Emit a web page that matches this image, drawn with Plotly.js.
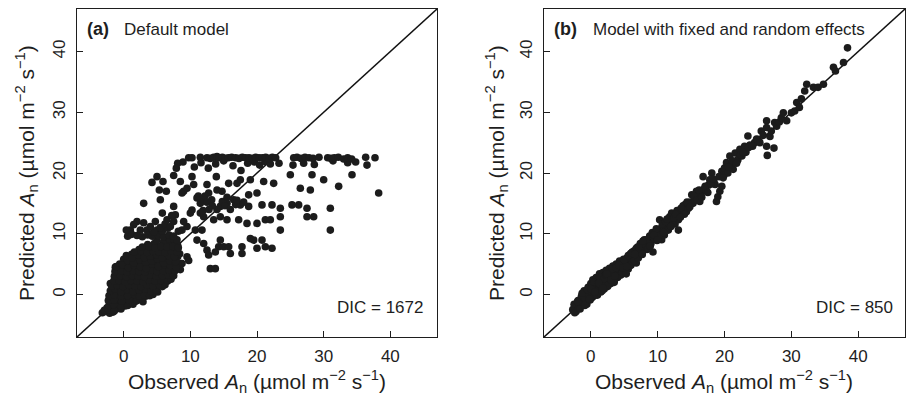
<!DOCTYPE html>
<html>
<head>
<meta charset="utf-8">
<script src="https://cdn.plot.ly/plotly-3.0.1.min.js"></script>
<style>html,body{margin:0;padding:0;background:#fff;}#chart{width:909px;height:397px;}</style>
</head>
<body>
<div id="chart"></div>
<script>
// ---------- Panel (a): Default model ----------
const bandAx = [9.75,10.25,11.5,12.5,13.0,13.5,14.0,14.3,14.8,15.2,15.7,16.2,16.8,17.3,17.8,18.3,18.8,19.3,19.8,20.3,20.8,21.3,21.8,22.3,22.8,25.5,26.0,26.6,27.2,27.8,28.4,29.3,30.6,31.1,31.6,32.2,33.0,33.6,34.2,36.3,37.7];
const bandAy = [22.5,22.5,22.6,22.5,22.4,22.6,22.7,22.5,22.6,22.4,22.5,22.6,22.5,22.4,22.6,22.5,22.5,22.4,22.6,22.5,22.5,22.6,22.4,22.6,22.5,22.5,22.6,22.4,22.6,22.5,22.4,22.6,22.5,22.4,22.5,22.6,22.3,22.5,22.3,22.6,22.5];
const band2Ax = [8.1,7.9,8.9,10.6,11.6,12.7,13.8,15.0,16.4,17.6,18.6,19.6,20.4,21.2,22.0,23.3,25.4,27.0,28.6,31.4,33.6,34.8,36.5];
const band2Ay = [21.6,20.8,21.8,21.0,21.7,20.8,21.5,22.0,21.2,20.4,21.6,21.8,21.3,21.9,21.5,21.6,21.3,21.6,21.4,22.0,21.7,21.8,21.3];
const midAx = [4.25,5.0,5.9,5.35,6.4,3.0,5.5,7.5,8.5,9.0,8.75,9.5,10.25,10.5,11.0,11.5,12.5,12.75,13.9,14.0,14.75,15.75,17.0,17.5,19.0,18.75,20.0,21.0,22.5,10.0,10.25,11.5,12.0,7.5,7.75,6.5,7.5,4.75,5.0,2.0,1.0,2.5,3.5,8.75,9.5,9.0,10.75,11.75,11.0,12.0,12.5,12.75,13.0,13.75,13.5,14.5,15.5,17.25,18.5,20.0,21.25,22.0,23.5,14.5,15.5,16.5,17.5,18.75,20.75,22.25,23.5,25.25,26.25,27.5,28.5,27.5,31.0,31.0,14.5,14.25,15.0,15.75,16.0,17.75,17.75,19.0,19.5,20.75,20.0,21.25,22.25,13.75,23.5,28.0,26.5,25.0,28.25,30.0,32.25,34.25,38.25,9.5,9.75,8.0];
const midAy = [18.45,19.4,18.6,17.2,17.0,15.0,15.6,19.6,18.6,17.0,16.7,17.5,19.4,18.1,15.9,15.0,18.1,16.7,19.4,17.2,17.0,18.3,18.3,18.9,18.9,16.4,16.7,18.6,18.3,13.4,13.9,13.4,12.8,14.5,13.1,12.3,12.0,12.0,10.6,12.0,10.6,10.6,10.6,10.6,11.2,12.0,10.6,10.6,8.95,8.4,7.3,6.5,4.25,4.25,12.3,12.8,12.3,12.3,11.7,11.7,12.3,12.3,12.8,14.5,15.0,15.6,14.75,14.5,14.75,14.75,14.2,14.75,14.75,14.2,12.8,12.8,14.2,10.6,8.95,7.85,7.85,7.85,6.75,7.85,6.75,9.2,8.95,8.95,7.6,7.85,7.6,7.0,10.6,17.2,17.5,19.7,19.7,18.9,17.8,19.7,16.7,6.2,5.6,9.0];
const extraAx = [14.8,15.2,16.0,16.8,17.0,18.0,15.5,14.0,13.2,12.0,12.2,11.2,12.5,13.3,11.9,12.8,0.6,1.2,2.0,2.8,3.6,4.3,5.2,6.0,6.8,7.5,4.5,5.8,6.6,0.4,1.5,3.0,4.0,5.5,6.2,7.0,8.2,5.8,7.2];
const extraAy = [15.3,14.6,14.0,14.8,15.5,15.2,16.0,14.0,15.6,15.5,16.2,16.2,15.2,14.6,13.8,14.0,9.6,9.9,9.7,9.5,9.8,9.6,9.7,9.5,9.8,9.6,10.3,10.4,10.9,10.6,11.5,11.8,11.2,11.0,11.6,11.2,10.4,13.4,13.0];
const blobAx = [-3.2,-2.7,-2.1,-1.6, -2.5,-1.8,-0.8,0.2, -2.0,-1.2,0.1,1.0,1.8, -1.8,-0.9,0.3,1.4,2.5,3.3, -1.9,-1.0,0.1,0.9,1.8,2.7,3.6,4.4,5.1, -1.6,-0.6,0.4,1.3,2.2,3.1,4.0,4.9,5.8, -1.3,-0.3,0.6,1.5,2.4,3.3,4.2,5.1,6.0,6.6, -1.1,-0.2,0.8,1.7,2.6,3.5,4.4,5.3,6.2,7.0, -0.9,0.0,0.9,1.8,2.7,3.6,4.5,5.4,6.3,7.2, -0.8,0.2,1.1,2.0,2.9,3.8,4.7,5.6,6.5,7.4,8.2, -0.6,0.3,1.2,2.1,3.0,3.9,4.8,5.7,6.6,7.5,8.6, 0.0,0.9,1.8,2.7,3.6,4.5,5.4,6.3,7.2,8.1, 1.2,2.2,3.1,4.0,4.9,5.8,6.7,7.6,8.4, 2.3,3.3,4.2,5.1,6.0,6.9,7.8, 3.6,4.6,5.5,6.4,7.3,8.1, 5.0,6.0,6.9,7.6, 2.5,8.75,-1.25,-2.0];
const blobAy = [-3.0,-2.8,-3.1,-2.9, -2.2,-2.0,-2.3,-1.9, -1.4,-1.2,-1.5,-1.3,-1.1, -0.6,-0.4,-0.7,-0.5,-0.8,-0.3, 0.2,0.4,0.0,0.3,0.1,0.4,0.2,0.0,0.4, 1.0,1.2,0.9,1.1,0.8,1.2,1.0,0.9,1.3, 1.8,1.9,1.7,2.0,1.6,1.9,1.8,2.1,1.7,2.2, 2.6,2.8,2.5,2.7,2.4,2.8,2.6,2.9,2.5,3.0, 3.4,3.6,3.3,3.5,3.2,3.6,3.4,3.7,3.3,3.8, 4.2,4.4,4.1,4.3,4.0,4.4,4.2,4.5,4.1,4.6,4.3, 5.0,5.2,4.9,5.1,4.8,5.2,5.0,5.3,4.9,5.4,5.1, 5.8,5.9,5.7,6.0,5.6,5.9,5.8,6.1,5.7,6.2, 6.6,6.8,6.5,6.7,6.4,6.8,6.6,6.9,6.7, 7.4,7.6,7.3,7.8,7.5,7.7,7.9, 8.2,8.4,8.0,8.3,8.5,8.1, 9.0,8.7,9.1,8.9, -0.7,5.1,4.5,1.8];
const blobA2x = [-2.9,-2.3,-1.4,-0.4, -2.2,-1.5,-0.4,0.6,1.4, -2.3,-1.4,-0.3,0.8,2.0,2.9, -2.2,-1.4,-0.4,0.6,1.6,2.4,3.1,3.9, -2.0,-1.3,-0.4,0.5,1.4,2.3,3.2,4.1,4.9, -1.8,-1.0,-0.1,0.8,1.7,2.6,3.5,4.4,5.4,6.2, -1.5,-0.7,0.2,1.1,2.0,2.9,3.8,4.7,5.6,6.5,7.1, -1.4,-0.5,0.4,1.3,2.2,3.1,4.0,4.9,5.8,6.7,7.5, -1.3,-0.4,0.5,1.4,2.3,3.2,4.1,5.0,5.9,6.8,7.7,8.5, -1.1,-0.2,0.7,1.6,2.5,3.4,4.3,5.2,6.1,7.0,7.9, 0.6,1.5,2.4,3.3,4.2,5.1,6.0,6.9,7.8, 0.4,1.3,2.2,3.1,4.0,4.9,5.8,6.7,7.6, 1.6,2.6,3.5,4.4,5.3,6.2,7.1,8.0, 2.8,3.8,4.7,5.6,6.5,7.4,8.2];
const blobA2y = [-2.6,-2.5,-2.7,-2.4, -1.8,-1.7,-1.9,-1.8,-1.6, -1.0,-0.9,-1.1,-0.9,-1.0,-1.2, -0.2,-0.1,-0.3,-0.2,0.0,-0.3,-0.1,-0.2, 0.6,0.9,0.4,0.8,0.5,0.7,0.9,0.5,0.7, 1.4,1.5,1.3,1.5,1.4,1.3,1.6,1.4,1.5,1.6, 2.2,2.3,2.1,2.3,2.2,2.1,2.4,2.2,2.3,2.4,2.5, 3.0,3.1,2.9,3.1,3.0,2.9,3.2,3.0,3.1,3.2,3.1, 3.8,3.9,3.7,3.9,3.8,3.7,4.0,3.8,3.9,4.0,3.9,4.1, 4.6,4.9,4.4,4.8,4.6,4.3,5.0,4.6,4.9,4.8,4.5, 5.6,5.2,5.7,5.3,5.5,5.8,5.2,5.6,5.4, 6.4,6.0,6.5,6.1,6.3,6.6,6.0,6.4,6.2, 7.0,7.1,6.9,7.1,7.0,6.9,7.2,7.0, 7.8,7.9,7.7,7.9,7.8,7.9,7.7];

// ---------- Panel (b): Model with fixed and random effects ----------
const blobBx = [-2.7,-2.5,-2.2,-1.9,-1.7,-1.4,-1.2,-1.0,-0.8,-0.6,-0.4,-0.3,-0.1,0.0,0.1,0.2,0.3,0.4,0.5,0.6,0.7,0.8,0.9,1.0,1.1,1.2,1.3,1.4,1.5,1.6,1.7,1.8,1.9,2.0,2.1,2.2,2.3,2.4,2.5,2.6,2.7,2.8,2.9,3.0,3.1,3.2,3.3,3.4,3.5,3.6,3.7,3.8,3.9,4.0,4.1,4.2,4.3,4.4,4.5,4.6,4.8,4.9,5.0,5.1,5.3,5.4,5.5,5.6,5.8,5.9,6.0,6.2,6.3,6.5,6.6,6.8,6.9,7.0,7.2,7.4,7.5,7.7,7.9,8.0,8.2,8.4,8.6,8.8,9.0,9.3,9.5,9.6,9.9];
const blobBy = [-2.5,-1.6,-2.8,-1.0,-2.0,-0.3,-1.4,0.6,-0.6,-1.6,1.2,0.1,-0.9,1.8,0.5,-0.5,2.4,1.0,-0.2,1.6,0.3,2.8,1.2,-0.1,2.2,0.8,3.4,1.6,0.4,2.6,1.2,3.6,2.0,0.9,3.0,1.6,4.0,2.5,1.3,3.4,2.0,4.3,2.8,1.8,3.8,2.6,4.7,3.2,2.3,4.2,3.0,5.0,3.6,2.8,4.6,3.5,5.5,4.0,3.2,5.0,4.2,5.8,3.8,5.0,4.4,6.0,5.0,4.2,5.6,6.6,4.8,6.2,5.4,7.2,6.0,5.2,6.8,7.8,6.4,7.2,8.2,6.9,7.8,9.0,8.0,7.4,8.6,9.6,8.4,7.0,9.2,10.1,8.9];
const blobB2x = [-2.4,-2.0,-1.6,-1.3,-0.9,-0.5,-0.2,0.2,0.5,0.8,1.1,1.4,1.7,2.0,2.3,2.6,2.9,3.2,3.5,3.8,4.1,4.4,4.7,5.0,5.3,5.6,5.9,6.2,6.5,6.8,7.1,7.4,7.7,8.0,8.3,8.6,0.0,0.6,1.2,1.8,2.4,3.0,3.6,4.2,4.8,5.4,6.0,6.6,7.2,7.8];
const blobB2y = [-3.0,-1.2,-2.4,0.2,-1.8,0.8,-0.8,1.4,2.0,0.0,1.8,2.8,0.6,2.6,3.2,1.5,3.6,4.2,2.0,4.4,3.0,5.0,3.6,5.6,3.4,6.4,4.8,7.0,5.6,7.6,6.0,8.4,6.6,8.4,9.0,7.6,0.9,0.4,1.9,1.1,3.4,2.4,3.0,4.8,4.4,4.6,6.8,6.6,7.8,8.8];
const upperBx = [10.3,10.6,10.4,10.8,11.0,11.3,11.6,11.6,11.9,12.1,12.3,12.6,12.8,13.1,13.1,13.3,13.6,13.8,14.1,14.3,14.6,14.9,15.1,15.3,15.6,15.8,16.0,16.3,16.5,16.8,17.0,17.3,17.6,17.8,18.1,18.4,18.6,18.8,19.0,19.3,19.6,19.6,19.9,20.0,20.3,20.5,20.8,21.0,21.3,21.6,21.9,22.0,22.3,22.6,23.0,23.2,23.5,23.8,24.5,25.0,25.5,25.8,26.3,26.3,26.3,26.4,26.8,27.0,27.4,27.5,27.8,28.2,28.5,28.8,29.3,30.0,30.5,30.8,31.2,31.5,32.0,32.3,33.3,34.0,34.8,36.3,36.6,37.8,38.4];
const upperBy = [12.3,9.0,10.8,11.3,9.8,11.0,10.6,12.2,11.4,13.4,12.0,11.6,12.8,12.3,10.6,13.6,13.4,14.6,14.8,13.6,14.2,15.2,16.4,15.0,15.6,17.0,16.2,15.3,16.8,19.4,17.4,17.0,18.0,18.9,20.0,18.6,18.1,15.3,16.1,17.0,20.3,17.8,19.6,20.8,21.7,20.0,22.8,21.2,20.6,23.3,22.0,22.2,23.9,22.8,24.4,23.4,26.1,24.6,25.0,25.5,26.9,26.2,28.6,27.5,24.4,22.9,26.0,26.9,24.1,28.3,27.7,28.4,29.1,29.9,28.6,29.9,30.2,31.6,30.8,32.2,33.5,34.6,34.1,34.1,34.6,37.4,36.8,38.2,40.6];
const upperB2x = [9.2,9.8,10.1,10.7,11.2,11.8,12.4,12.9,13.5,14.0,14.4,14.8,15.4,15.9,16.2,16.6,17.1,17.5,18.0,18.3,19.2,19.8,20.6,21.2,21.8,22.4,22.8,23.6,24.2,24.8,25.3,8.9,9.4,10.0,10.9,11.4,12.0,12.7,13.4];
const upperB2y = [10.2,10.8,9.6,11.6,12.0,12.8,12.6,13.8,14.2,13.2,15.2,14.4,16.2,15.6,17.2,16.0,17.8,16.8,18.2,19.0,19.4,19.2,21.0,22.0,21.6,23.0,23.4,24.2,24.4,25.6,25.0,8.0,9.8,9.0,10.2,12.4,11.2,13.2,12.7];

const axisRange = [-7, 47];
const tickValues = [0, 10, 20, 30, 40];
const titleX = 'Observed <i>A</i><sub>n</sub> (µmol m<sup>−2</sup> s<sup>−1</sup>)';
const titleY = 'Predicted <i>A</i><sub>n</sub> (µmol m<sup>−2</sup> s<sup>−1</sup>)';

const W = 909, H = 397;
const px = v => v / W, py = v => 1 - v / H;
const FONT = 'Liberation Sans, Arial, Helvetica, sans-serif';
const INK = '#1e1e1e';

const marker = {size: 7.6, color: '#1c1c1c', line: {width: 0}};
const traces = [
  {x: [].concat(blobAx, blobA2x, midAx, extraAx, band2Ax, bandAx), y: [].concat(blobAy, blobA2y, midAy, extraAy, band2Ay, bandAy),
   type: 'scatter', mode: 'markers', marker: marker, xaxis: 'x', yaxis: 'y', hoverinfo: 'x+y'},
  {x: [].concat(blobBx, blobB2x, upperBx, upperB2x), y: [].concat(blobBy, blobB2y, upperBy, upperB2y),
   type: 'scatter', mode: 'markers', marker: marker, xaxis: 'x2', yaxis: 'y2', hoverinfo: 'x+y'}
];

function axis(domain, extra) {
  return Object.assign({
    domain: domain, range: axisRange, tickvals: tickValues, ticktext: tickValues.map(String),
    showgrid: false, zeroline: false, showline: true, mirror: true, linecolor: INK, linewidth: 1,
    ticks: 'inside', ticklen: 6, tickwidth: 1, tickcolor: INK,
    tickfont: {family: FONT, size: 17, color: INK}, fixedrange: true
  }, extra);
}

const xdomA = [px(77), px(437)], xdomB = [px(544), px(905)], ydom = [1 - 337 / H, 1 - 9 / H];

const ann = (text, x, y, opts) => Object.assign({text: text, x: px(x), y: py(y), xref: 'paper', yref: 'paper',
  showarrow: false, font: {family: FONT, size: 17, color: INK}, xanchor: 'left', yanchor: 'middle'}, opts || {});

const layout = {
  width: W, height: H, margin: {l: 0, r: 0, t: 0, b: 0}, paper_bgcolor: '#fff', plot_bgcolor: '#fff',
  showlegend: false,
  xaxis: axis(xdomA, {anchor: 'y', ticklabelstandoff: 4}),
  yaxis: axis(ydom, {anchor: 'x', tickangle: -90, ticklabelstandoff: 4}),
  xaxis2: axis(xdomB, {anchor: 'y2', ticklabelstandoff: 4}),
  yaxis2: axis(ydom, {anchor: 'x2', tickangle: -90, ticklabelstandoff: 4}),
  shapes: [
    {type: 'line', xref: 'x', yref: 'y', x0: axisRange[0], y0: axisRange[0], x1: axisRange[1], y1: axisRange[1], line: {color: '#111', width: 1.5}, layer: 'below'},
    {type: 'line', xref: 'x2', yref: 'y2', x0: axisRange[0], y0: axisRange[0], x1: axisRange[1], y1: axisRange[1], line: {color: '#111', width: 1.5}, layer: 'below'}
  ],
  annotations: [
    ann('<b>(a)</b>', 85, 29.5, {font: {family: FONT, size: 18, color: INK}}),
    ann('Default model', 122, 29.5),
    ann('DIC = 1672', 425, 307, {xanchor: 'right'}),
    ann('<b>(b)</b>', 552, 29.5, {font: {family: FONT, size: 18, color: INK}}),
    ann('Model with fixed and random effects', 591, 29.5),
    ann('DIC = 850', 895, 307, {xanchor: 'right'}),
    ann(titleX, 257, 381, {xanchor: 'center', font: {family: FONT, size: 21, color: INK}}),
    ann(titleX, 724, 381, {xanchor: 'center', font: {family: FONT, size: 21, color: INK}}),
    ann(titleY, 26, 173, {xanchor: 'center', textangle: -90, font: {family: FONT, size: 21, color: INK}}),
    ann(titleY, 496, 173, {xanchor: 'center', textangle: -90, font: {family: FONT, size: 21, color: INK}})
  ]
};

Plotly.newPlot('chart', traces, layout, {displayModeBar: false, staticPlot: true});
</script>
</body>
</html>
